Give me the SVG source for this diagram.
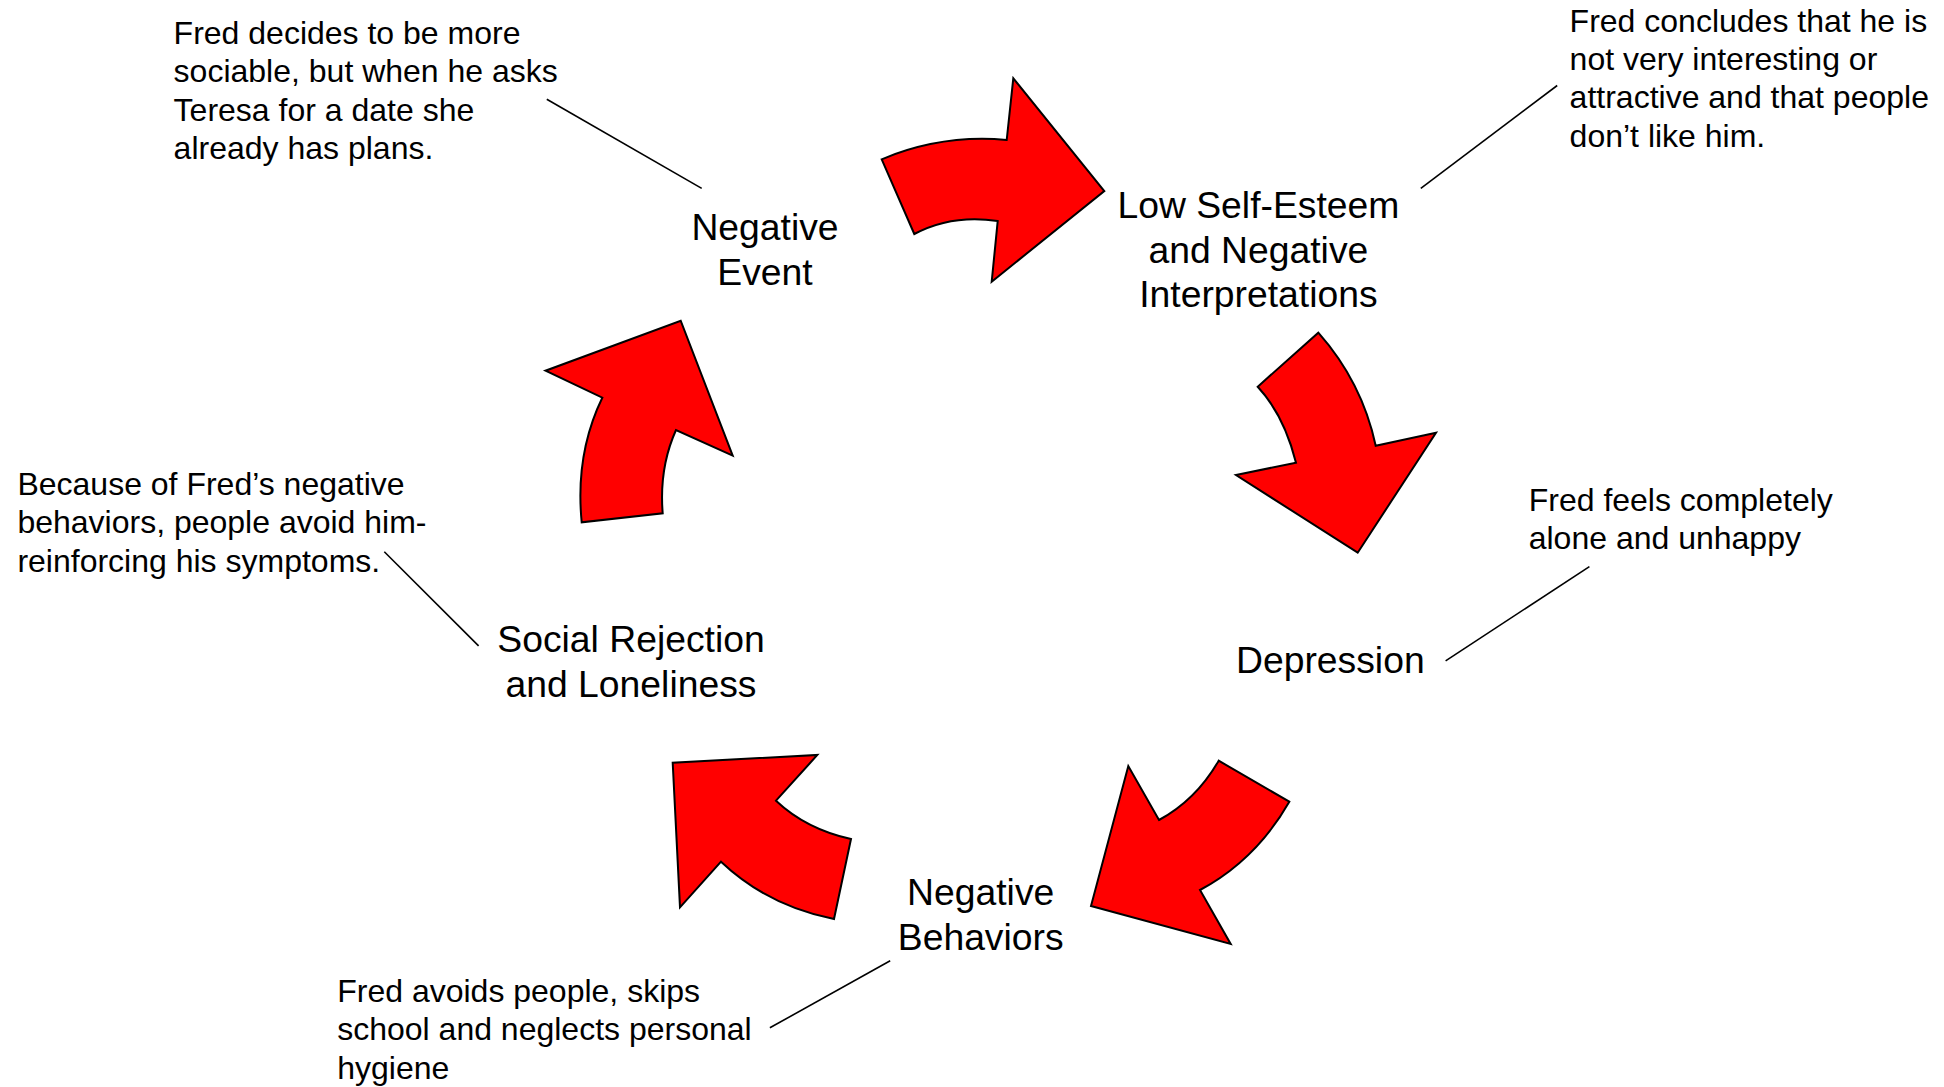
<svg xmlns="http://www.w3.org/2000/svg" width="1944" height="1087" viewBox="0 0 1944 1087">
<style>
.arrow{fill:#ff0000;stroke:#000;stroke-width:2;stroke-linejoin:miter}
.lbl{font-family:"Liberation Sans",Arial,sans-serif;font-size:37.3px;fill:#000;text-anchor:middle}
.note{font-family:"Liberation Sans",Arial,sans-serif;font-size:32px;fill:#000}
.conn{stroke:#000;stroke-width:1.6;fill:none}
</style>
<rect width="1944" height="1087" fill="#fff"/>
<g id="arrows">
<path id="arrow1" class="arrow" d="M881.7,159.3 Q942,134 1006.7,140 L1013.3,78.3 L1104.3,191 L991.7,281.7 L997.7,221 Q952,214 914.3,234 Z"/>
<path id="arrow2" class="arrow" d="M1318.3,332.7 Q1362,382 1375.7,445.7 L1436,432.7 L1357.7,552.7 L1236,475 L1296,462.7 Q1284,415 1257.7,386.7 Z"/>
<path id="arrow3" class="arrow" d="M1289.3,801.7 Q1256,860 1200,890 L1230.7,944 L1091,906 L1128.3,766 L1159,820 Q1196,800 1218.7,760.7 Z"/>
<path id="arrow4" class="arrow" d="M834,919 Q768,906 721,861.7 L680,907.3 L672.7,762.7 L817.3,755 L776,800.7 Q806,829 851,839 Z"/>
<path id="arrow5" class="arrow" d="M581.7,522.3 Q575,454 602.3,397.7 L545.5,370.7 L680.7,320.7 L732.7,455.7 L676,430 Q659,468 662.7,513.3 Z"/>
</g>
<g id="connectors">
<line class="conn" x1="546.8" y1="99.2" x2="701.7" y2="188.4"/>
<line class="conn" x1="1420.8" y1="188.4" x2="1557.2" y2="85.5"/>
<line class="conn" x1="384.3" y1="551.7" x2="478.6" y2="645.9"/>
<line class="conn" x1="1445.6" y1="660.8" x2="1589.4" y2="566.6"/>
<line class="conn" x1="769.9" y1="1027.8" x2="890.2" y2="960.8"/>
</g>
<g id="node-negative-event">
<text class="lbl" x="765" y="240"><tspan x="765">Negative</tspan><tspan x="765" dy="44.6">Event</tspan></text>
</g>
<g id="node-low-self-esteem">
<text class="lbl" x="1258.4" y="218"><tspan x="1258.4">Low Self-Esteem</tspan><tspan x="1258.4" dy="44.6">and Negative</tspan><tspan x="1258.4" dy="44.6">Interpretations</tspan></text>
</g>
<g id="node-depression">
<text class="lbl" x="1330.3" y="673">Depression</text>
</g>
<g id="node-negative-behaviors">
<text class="lbl" x="980.7" y="905"><tspan x="980.7">Negative</tspan><tspan x="980.7" dy="44.6">Behaviors</tspan></text>
</g>
<g id="node-social-rejection">
<text class="lbl" x="631" y="652"><tspan x="631">Social Rejection</tspan><tspan x="631" dy="44.6">and Loneliness</tspan></text>
</g>
<g id="note-event">
<text class="note" x="173.6" y="44"><tspan x="173.6">Fred decides to be more</tspan><tspan x="173.6" dy="38.4">sociable, but when he asks</tspan><tspan x="173.6" dy="38.4">Teresa for a date she</tspan><tspan x="173.6" dy="38.4">already has plans.</tspan></text>
</g>
<g id="note-self-esteem">
<text class="note" x="1569.6" y="31.5"><tspan x="1569.6">Fred concludes that he is</tspan><tspan x="1569.6" dy="38.4">not very interesting or</tspan><tspan x="1569.6" dy="38.4">attractive and that people</tspan><tspan x="1569.6" dy="38.4">don’t like him.</tspan></text>
</g>
<g id="note-rejection">
<text class="note" x="17.4" y="495"><tspan x="17.4">Because of Fred’s negative</tspan><tspan x="17.4" dy="38.4">behaviors, people avoid him-</tspan><tspan x="17.4" dy="38.4">reinforcing his symptoms.</tspan></text>
</g>
<g id="note-depression">
<text class="note" x="1528.7" y="511"><tspan x="1528.7">Fred feels completely</tspan><tspan x="1528.7" dy="38.4">alone and unhappy</tspan></text>
</g>
<g id="note-behaviors">
<text class="note" x="337.2" y="1002"><tspan x="337.2">Fred avoids people, skips</tspan><tspan x="337.2" dy="38.4">school and neglects personal</tspan><tspan x="337.2" dy="38.4">hygiene</tspan></text>
</g>
</svg>
